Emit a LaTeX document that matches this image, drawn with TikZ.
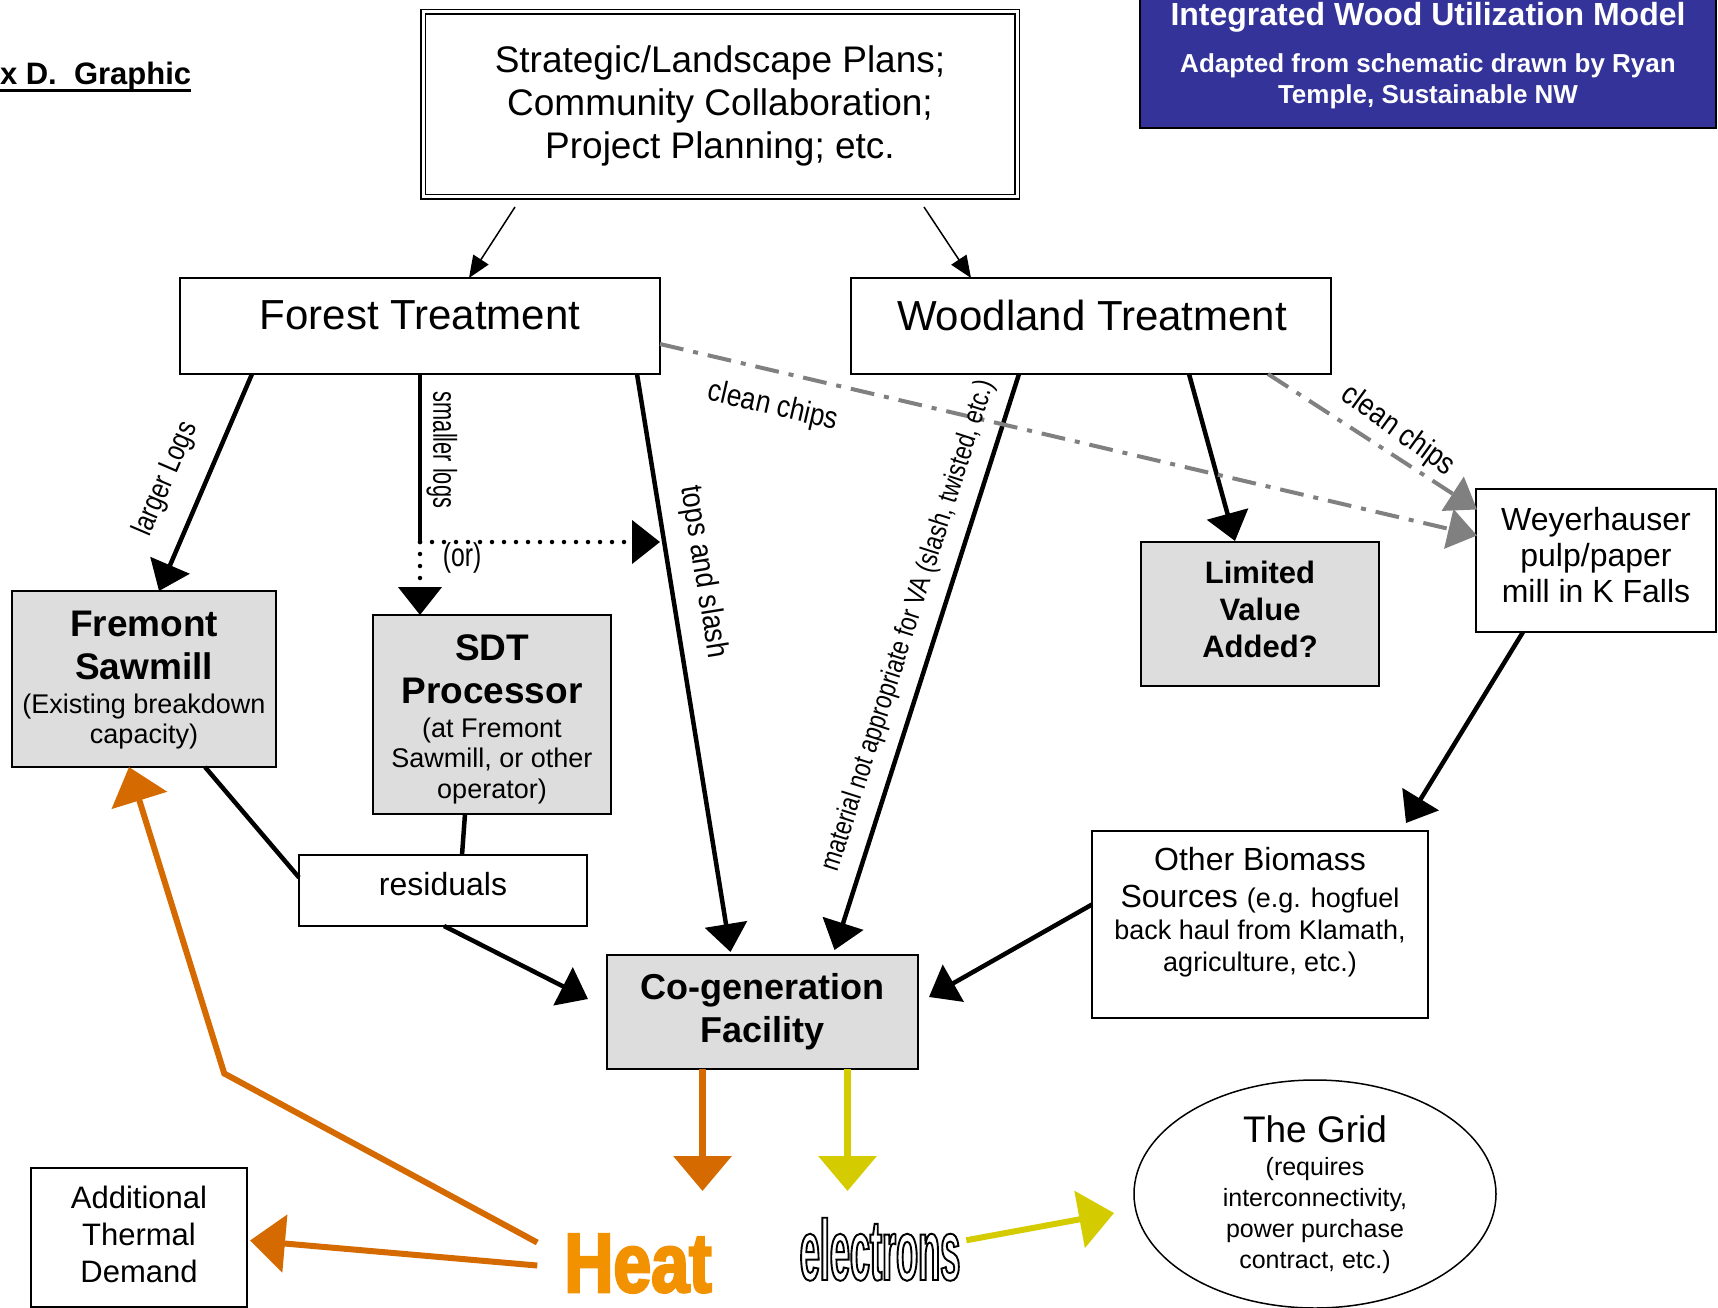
\documentclass[tikz,border=0pt]{standalone}
\usepackage{fontspec}
\setmainfont{Liberation Sans}
\newfontfamily\heatfont[FakeStretch=0.81,FakeBold=3]{Liberation Sans}
\newfontfamily\elecfont[FakeStretch=0.42,FakeBold=2.2]{Liberation Sans}
\usetikzlibrary{arrows.meta,calc,shapes.geometric}
\newcommand\setfs[2]{\fontsize{#1}{#2}\selectfont}
\newcommand\narrowfs[2]{\fontspec[FakeStretch=#1]{Liberation Sans}\fontsize{#2}{#2}\selectfont}
\definecolor{boxgray}{HTML}{DDDDDD}
\definecolor{titleblue}{HTML}{333399}
\definecolor{heatorange}{HTML}{D56A00}
\definecolor{elecyellow}{HTML}{D4CC00}
\definecolor{chipgray}{HTML}{808080}
\definecolor{heattext}{HTML}{F39200}
\begin{document}
\begin{tikzpicture}[x=1pt,y=-1pt,
  every node/.style={outer sep=0pt},
  box/.style={draw, line width=2pt, fill=white},
  graybox/.style={draw, line width=2pt, fill=boxgray},
  lbl/.style={inner sep=0pt},
  thinarrow/.style={line width=1.5pt, -{Triangle[length=22pt,width=18pt]}},
  blk/.style={line width=4.5pt, -{Triangle[length=28pt,width=42pt]}},
  plainblk/.style={line width=4.5pt},
  dotarrow/.style={line width=4.5pt, line cap=round, dash pattern=on 0pt off 12pt, -{Triangle[length=28pt,width=43pt]}},
  chip/.style={draw=chipgray, line width=4pt, dash pattern=on 24pt off 10pt on 5pt off 10pt, -{Triangle[length=29pt,width=40pt]}, chipgray},
  orgarrow/.style={draw=heatorange, heatorange, line width=7pt, -{Triangle[length=35pt,width=57pt]}},
  yelarrow/.style={draw=elecyellow, elecyellow, line width=7pt, -{Triangle[length=35pt,width=57pt]}}
]
\fill[white] (0,0) rectangle (1718,1308);
\useasboundingbox (0,0) rectangle (1718,1308);

% heading
\node[anchor=base west, font=\bfseries\setfs{31}{34}, inner sep=0pt] (appx) at (0,85) {x D.\ \ Graphic};
\draw[line width=3pt] ($(appx.base west)+(0,6)$) -- ($(appx.base east)+(0,6)$);

% title box
\node[draw, line width=2pt, fill=titleblue, minimum width=576pt, minimum height=133pt] (titlebox) at (1428,61.5) {};
\node[font=\bfseries\setfs{32}{36}, text=white, inner sep=0pt, anchor=base] (titletext) at (1428,26) {Integrated Wood Utilization Model};
\node[font=\bfseries\setfs{26}{30.5}, text=white, inner sep=0pt, align=center] (subtitle) at (1428,81.5) {Adapted from schematic drawn by Ryan\\Temple, Sustainable NW};

% boxes
\node[draw, line width=1.5pt, double, double distance=3pt, minimum width=594pt, minimum height=185pt] (plans) at (720,104.5) {};
\node[font=\setfs{37}{43}, align=center, inner sep=0pt] (planslbl) at (720,106) {Strategic/Landscape Plans;\\Community Collaboration;\\Project Planning; etc.};

\node[box, minimum width=480pt, minimum height=96pt] (forest) at (420,326) {};
\node[font=\setfs{42}{48}, inner sep=0pt] (forestlbl) at (420,315) {Forest Treatment};
\node[box, minimum width=480pt, minimum height=96pt] (woodland) at (1091,326) {};
\node[font=\setfs{42}{48}, inner sep=0pt] (woodlandlbl) at (1092,315) {Woodland Treatment};

\node[graybox, minimum width=264pt, minimum height=176pt] (fremont) at (144,679) {};
\node[align=center, font=\setfs{27}{30}, inner sep=0pt] (fremontlbl) at (144,680)
  {\bfseries\setfs{37}{43}Fremont\\[13pt]\bfseries\setfs{37}{43}Sawmill\\[4pt](Existing breakdown\\capacity)};

\node[graybox, minimum width=238pt, minimum height=199pt] (sdt) at (492,714.5) {};
\node[align=center, font=\setfs{27}{30}, inner sep=0pt] (sdtlbl) at (492,719)
  {\bfseries\setfs{37}{43}SDT\\[13pt]\bfseries\setfs{37}{43}Processor\\[4pt](at Fremont\\Sawmill, or other\\[1pt]operator)};

\node[box, minimum width=288pt, minimum height=71pt] (residuals) at (443,890.5) {};
\node[font=\setfs{32}{36}, inner sep=0pt] (residualslbl) at (443,884) {residuals};

\node[graybox, minimum width=311pt, minimum height=114pt, align=center, font=\bfseries\setfs{36}{43}] (cogen) at (762.5,1012) {Co-generation\\Facility};

\node[graybox, minimum width=238pt, minimum height=144pt] (limited) at (1260,614) {};
\node[align=center, font=\bfseries\setfs{31}{37}, inner sep=0pt] (limitedlbl) at (1260,609) {Limited\\Value\\Added?};

\node[box, minimum width=240pt, minimum height=143pt] (weyer) at (1596,560.5) {};
\node[align=center, font=\setfs{32}{36}, inner sep=0pt] (weyerlbl) at (1596,555) {Weyerhauser\\pulp/paper\\mill in K Falls};

\node[box, minimum width=336pt, minimum height=187pt] (other) at (1260,924.5) {};
\node[align=center, font=\setfs{27}{32}, inner sep=0pt] (otherlbl) at (1260,912)
  {\setfs{32}{36}Other Biomass\\[5pt]\setfs{32}{36}Sources \setfs{27}{32}(e.g. hogfuel\\back haul from Klamath,\\agriculture, etc.)};

\node[draw, ellipse, line width=1.5pt, minimum width=362pt, minimum height=228pt] (grid) at (1315,1194) {};
\node[align=center, font=\setfs{25}{31}, inner sep=0pt] (gridlbl) at (1315,1195)
  {\setfs{37}{43}The Grid\\[2pt](requires\\interconnectivity,\\power purchase\\contract, etc.)};

\node[box, minimum width=216pt, minimum height=139pt] (thermal) at (139,1237.5) {};
\node[align=center, font=\setfs{31}{37}, inner sep=0pt] (thermallbl) at (139,1234) {Additional\\Thermal\\Demand};

\node[font=\heatfont\bfseries\setfs{84}{90}, text=heattext, inner sep=0pt, anchor=base] (heat) at (638,1292) {Heat};
\node[font=\elecfont\bfseries\setfs{86}{90}, inner sep=0pt, anchor=base] (electrons) at (880,1280)
  {\special{pdf:bcolor [1 1 1] [0 0 0]}electrons\special{pdf:ecolor}};

% connectors
\draw[thinarrow] ($(plans.south)+(-205,10)$) -- ($(forest.north)+(49,0)$);
\draw[thinarrow] ($(plans.south)+(204,10)$) -- ($(woodland.north)+(-120,0)$);

\draw[blk] ($(forest.south)+(-168,0)$) -- ($(fremont.north)+(15,0)$);
\coordinate (orpt) at ($(forest.south)+(0,168)$);
\coordinate (orend) at (660,542);
\draw[plainblk] (forest.south) -- (orpt);
\draw[dotarrow] (orpt) -- ($(sdt.north)+(-72,0)$);
\draw[dotarrow] (orpt) -- (orend);
\draw[blk] ($(forest.south)+(217,0)$) -- ($(cogen.north)+(-32,-3)$);
\draw[blk] ($(woodland.south)+(-72,0)$) -- ($(cogen.north)+(72,-5)$);
\draw[blk] ($(woodland.south)+(98,0)$) -- ($(limited.north)+(-25,-1)$);
\draw[chip] ($(forest.east)+(0,18)$) -- ($(weyer.west)+(1,-25)$);
\draw[chip] ($(woodland.south east)+(-63,0)$) -- ($(weyer.west)+(1,-51)$);
\draw[blk] ($(weyer.south)+(-73,0)$) -- ($(other.north)+(146,-8)$);
\draw[blk] ($(other.west)+(0,-20)$) -- ($(cogen.east)+(11,-15)$);
\draw[plainblk] ($(fremont.south)+(61,0)$) -- ($(residuals.west)+(0,-13)$);
\draw[plainblk] ($(sdt.south)+(-27,0)$) -- ($(residuals.north)+(19,0)$);
\draw[blk] ($(residuals.south)+(1,0)$) -- ($(cogen.west)+(-19,-13)$);

\draw[orgarrow] ($(cogen.south)+(-60,0)$) -- ($(cogen.south)+(-60,122)$);
\draw[yelarrow] ($(cogen.south)+(85,0)$) -- ($(cogen.south)+(85,122)$);
\draw[yelarrow, line width=6pt] ($(electrons.east)+(6,-9)$) -- ($(grid.west)+(-20,19)$);
\draw[orgarrow, line width=6pt] ($(heat.west)+(-27,2)$) -- ($(thermal.east)+(3,3)$);
\draw[orgarrow, line width=6pt] ($(heat.west)+(-27,-21)$) -- ($(heat.west)+(-340,-190)$) -- ($(fremont.south)+(-15,0)$);

% labels
\node[lbl, font=\narrowfs{0.8}{30}, rotate=66.8] (lbllarger) at (166,479) {larger Logs};
\node[lbl, font=\narrowfs{0.66}{33}, rotate=-90] (lblsmaller) at (442,450) {smaller logs};
\node[lbl, font=\narrowfs{0.75}{33}] (lblor) at (462,558) {(or)};
\node[lbl, font=\narrowfs{0.87}{31}, rotate=-80.8] (lbltops) at (703,572) {tops and slash};
\node[lbl, font=\narrowfs{0.81}{28}, rotate=72.3] (lblmaterial) at (909,626) {material not appropriate for VA (slash, twisted, etc.)};
\node[lbl, font=\narrowfs{0.85}{31}, rotate=-13] (lblchipsa) at (773,407) {clean chips};
\node[lbl, font=\narrowfs{0.85}{31}, rotate=-36] (lblchipsb) at (1398,431) {clean chips};
\end{tikzpicture}
\end{document}
